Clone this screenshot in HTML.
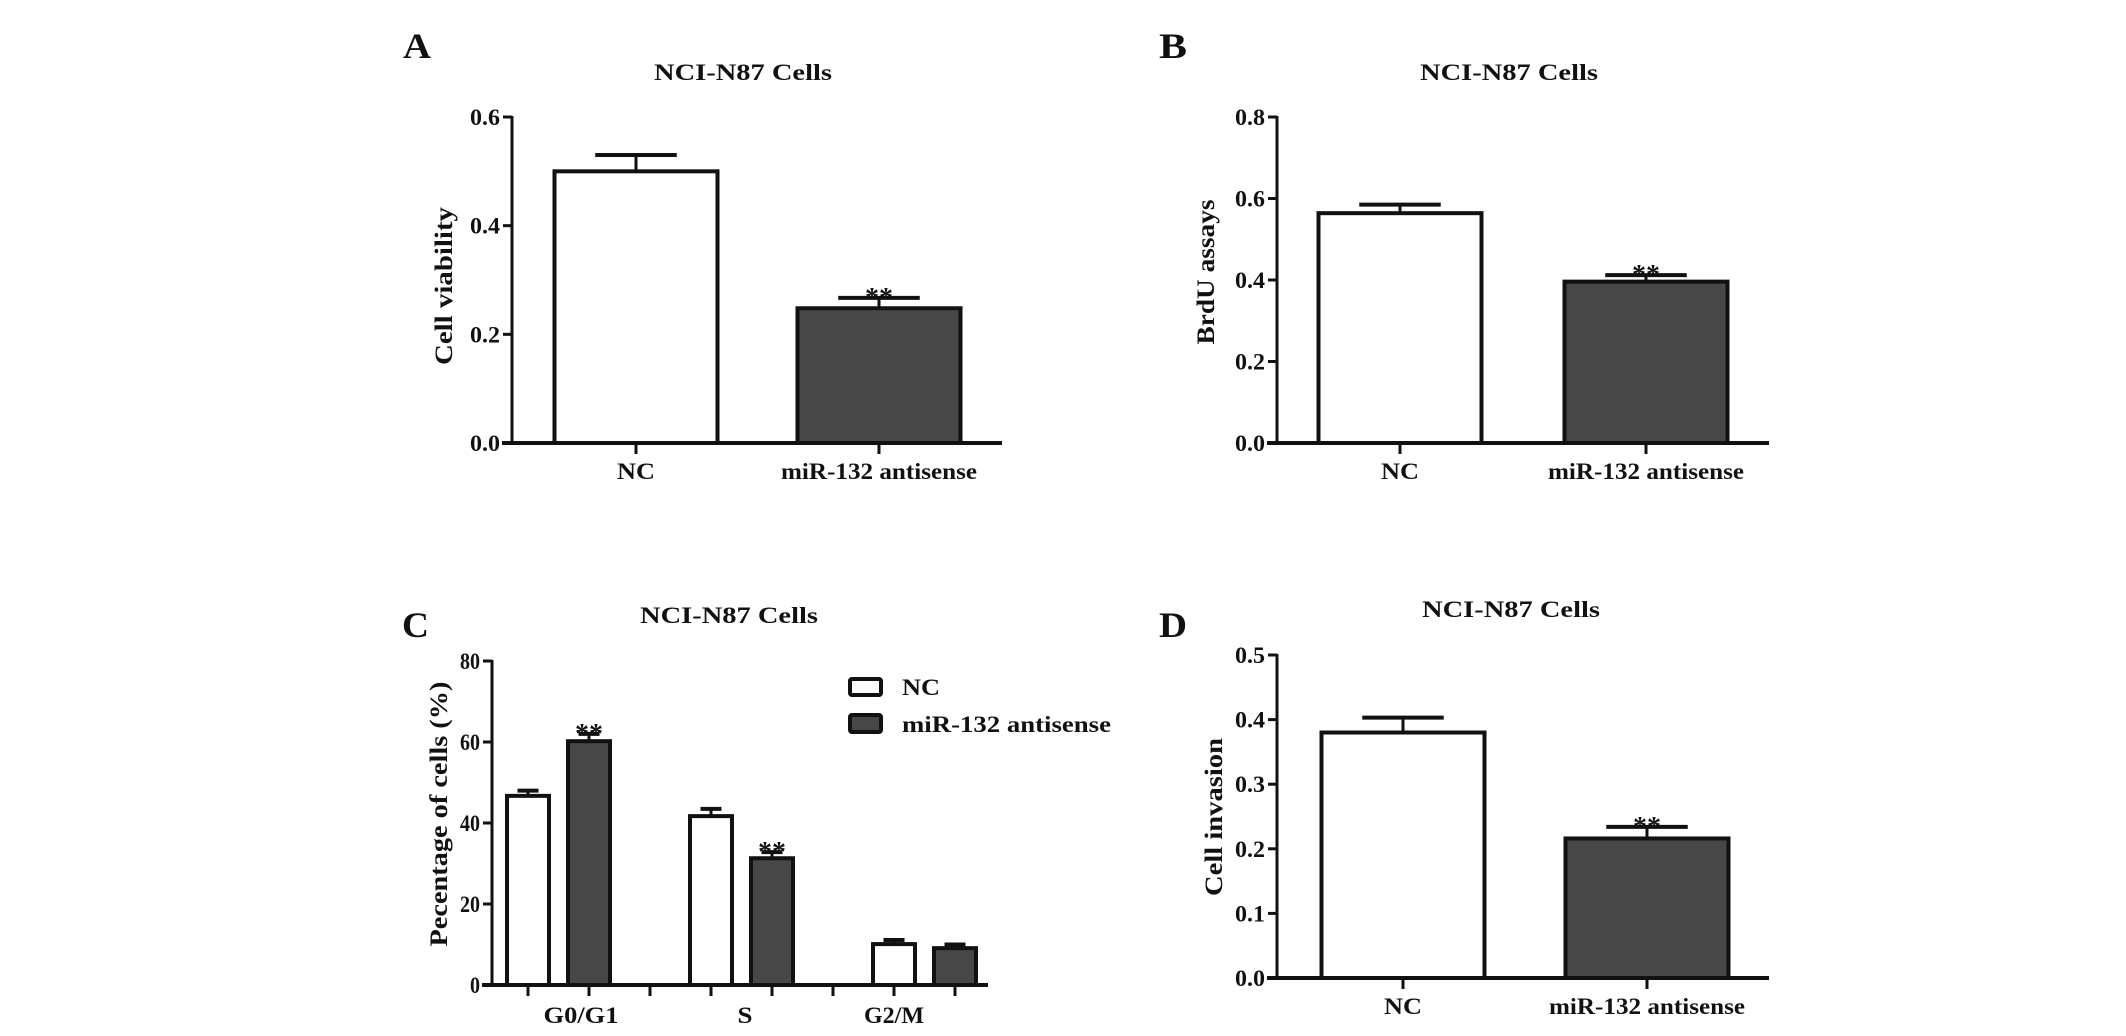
<!DOCTYPE html>
<html><head><meta charset="utf-8"><style>
html,body{margin:0;padding:0;background:#fff;}
svg{display:block;}
text{font-family:"Liberation Serif",serif;font-weight:bold;fill:#111;}
</style></head><body>
<svg id="fig" width="2126" height="1036" viewBox="0 0 2126 1036" xmlns="http://www.w3.org/2000/svg"></svg>
<script>
// Panel A data
const catsA = ["NC", "miR-132 antisense"];
const valsA = [0.50, 0.248];
const errA = [0.53, 0.267];
const ticksA = [0, 0.2, 0.4, 0.6];
const tickLabelsA = ["0.0", "0.2", "0.4", "0.6"];
// Panel B data
const catsB = ["NC", "miR-132 antisense"];
const valsB = [0.564, 0.396];
const errB = [0.585, 0.412];
const ticksB = [0, 0.2, 0.4, 0.6, 0.8];
const tickLabelsB = ["0.0", "0.2", "0.4", "0.6", "0.8"];
// Panel C data
const catsC = ["G0/G1", "S", "G2/M"];
const ncC = [46.7, 41.7, 10.1];
const ncErrC = [48, 43.5, 11.1];
const antiC = [60.2, 31.3, 9.1];
const antiErrC = [62, 32.8, 10];
const ticksC = [0, 20, 40, 60, 80];
const tickLabelsC = ["0", "20", "40", "60", "80"];
// Panel D data
const catsD = ["NC", "miR-132 antisense"];
const valsD = [0.38, 0.216];
const errD = [0.403, 0.234];
const ticksD = [0, 0.1, 0.2, 0.3, 0.4, 0.5];
const tickLabelsD = ["0.0", "0.1", "0.2", "0.3", "0.4", "0.5"];

const NS = "http://www.w3.org/2000/svg";
const svg = document.getElementById("fig");
const DARK = "#474747";

function mk(tag, attrs, parent) {
  const e = document.createElementNS(NS, tag);
  for (const k in attrs) e.setAttribute(k, attrs[k]);
  (parent || svg).appendChild(e);
  return e;
}
function txt(x, y, s, size, anchor, len, parent, rot) {
  const t = mk("text", {x: x, y: y, "font-size": size, "text-anchor": anchor || "middle"}, parent);
  if (len) { t.setAttribute("textLength", len); t.setAttribute("lengthAdjust", "spacingAndGlyphs"); }
  if (rot) t.setAttribute("transform", "rotate(-90 " + x + " " + y + ")");
  t.textContent = s;
  return t;
}

function axes(g, ax, y0, yTop, xEnd, vmax, ticks, labels, ylabel, ylx, ylc, yllen) {
  const sy = v => y0 - v / vmax * (y0 - yTop);
  const yaxis = mk("line", {x1: ax, y1: yTop - 1, x2: ax, y2: y0, stroke: "#111", "stroke-width": 3}, g);
  
  
  const xaxis = mk("line", {x1: ax - 10, y1: y0, x2: xEnd, y2: y0, stroke: "#111", "stroke-width": 4}, g);
  
  
  ticks.forEach((v, i) => {
    const y = sy(v);
    mk("line", {x1: ax - 9, y1: y, x2: ax, y2: y, stroke: "#111", "stroke-width": 3}, g);
    const lab = labels[i];
    const t = txt(ax - 12, y + 8, lab, 23, "end", lab.length * 10, g);
    
    
  });
  const yl = txt(ylx, ylc, ylabel, 25, "middle", yllen, g, true);
  
  
  return sy;
}

function bar(g, x1, x2, v, e, sy, y0, fill, star, name) {
  const r = mk("rect", {x: x1, y: sy(v), width: x2 - x1, height: y0 - sy(v), fill: fill, stroke: "#111", "stroke-width": 4}, g);
  
  
  const cx = (x1 + x2) / 2, w = (x2 - x1) / 2;
  const eg = mk("g", {}, g);
  
  
  mk("line", {x1: cx, y1: sy(v), x2: cx, y2: sy(e), stroke: "#111", "stroke-width": 3}, eg);
  mk("line", {x1: cx - w / 2, y1: sy(e), x2: cx + w / 2, y2: sy(e), stroke: "#111", "stroke-width": 4}, eg);
  if (star) {
    const s = txt(cx, sy(e) + 9, "**", 28, "middle", 0, g);
    
    
  }
}

function twoBarPanel(cfg) {
  const g = mk("g", {});
  
  
  const L = txt(cfg.letterX, cfg.letterY, cfg.letter, 36, "start", 28, g);
  
  
  const T = txt(cfg.titleX, cfg.titleY, "NCI-N87 Cells", 23, "middle", 178, g);
  
  
  const sy = axes(g, cfg.ax, cfg.y0, cfg.yTop, cfg.xEnd, cfg.vmax, cfg.ticks, cfg.labels, cfg.ylabel, cfg.ylx, cfg.ylc, cfg.yllen);
  const bw = cfg.bw;
  cfg.cats.forEach((c, i) => {
    const cx = cfg.centers[i];
    bar(g, cx - bw / 2, cx + bw / 2, cfg.vals[i], cfg.errs[i], sy, cfg.y0, i === 0 ? "#fff" : DARK, i === 1, i === 0 ? "bar-nc" : "bar-antisense");
    mk("line", {x1: cx, y1: cfg.y0, x2: cx, y2: cfg.y0 + 11, stroke: "#111", "stroke-width": 3}, g);
    const t = txt(cx, cfg.y0 + 36, c, 23, "middle", c.length > 3 ? 196 : 38, g);
    
    
  });
}

twoBarPanel({name: "panel-a-cell-viability", letter: "A", letterX: 403, letterY: 58, titleX: 743, titleY: 80,
  ax: 512, y0: 443, yTop: 117, xEnd: 1002, vmax: 0.6, ticks: ticksA, labels: tickLabelsA,
  ylabel: "Cell viability", ylx: 452, ylc: 286, yllen: 158, cats: catsA, vals: valsA, errs: errA, centers: [636, 879], bw: 163});
twoBarPanel({name: "panel-b-brdu", letter: "B", letterX: 1159, letterY: 58, titleX: 1509, titleY: 80,
  ax: 1277, y0: 443, yTop: 117, xEnd: 1769, vmax: 0.8, ticks: ticksB, labels: tickLabelsB,
  ylabel: "BrdU assays", ylx: 1214, ylc: 272, yllen: 145, cats: catsB, vals: valsB, errs: errB, centers: [1400, 1646], bw: 163});
twoBarPanel({name: "panel-d-cell-invasion", letter: "D", letterX: 1159, letterY: 637, titleX: 1511, titleY: 617,
  ax: 1277, y0: 978, yTop: 655, xEnd: 1769, vmax: 0.5, ticks: ticksD, labels: tickLabelsD,
  ylabel: "Cell invasion", ylx: 1222, ylc: 817, yllen: 158, cats: catsD, vals: valsD, errs: errD, centers: [1403, 1647], bw: 163});

// Panel C
(function () {
  const g = mk("g", {});
  
  
  const L = txt(402, 637, "C", 36, "start", 27, g);
  
  
  const T = txt(729, 623, "NCI-N87 Cells", 23, "middle", 178, g);
  
  
  const ax = 492, y0 = 985, yTop = 661;
  const sy = axes(g, ax, y0, yTop, 988, 80, ticksC, tickLabelsC, "Pecentage of cells (%)", 447, 814, 265);
  const step = 61, first = 528, bw = 42;
  for (let k = 0; k < catsC.length * 3 - 1; k++) {
    const x = first + k * step;
    mk("line", {x1: x, y1: y0, x2: x, y2: y0 + 11, stroke: "#111", "stroke-width": 3}, g);
  }
  const labelX = [581, 745, 894];
  catsC.forEach((c, i) => {
    const xn = first + i * 3 * step, xa = xn + step;
    bar(g, xn - bw / 2, xn + bw / 2, ncC[i], ncErrC[i], sy, y0, "#fff", false, "bar-nc-" + i);
    bar(g, xa - bw / 2, xa + bw / 2, antiC[i], antiErrC[i], sy, y0, DARK, i < 2, "bar-antisense-" + i);
    const t = txt(labelX[i], 1023, c, 23, "middle", c.length * 15, g);
    
    
  });
  const lg = mk("g", {}, g);
  
  
  mk("rect", {x: 850, y: 679, width: 31, height: 16, fill: "#fff", stroke: "#111", "stroke-width": 4, rx: 2}, lg);
  mk("rect", {x: 850, y: 715, width: 31, height: 17, fill: DARK, stroke: "#111", "stroke-width": 4, rx: 2}, lg);
  const l1 = txt(902, 695, "NC", 23, "start", 38, lg);
  
  
  l1.setAttribute('font-weight', 'normal');
  const l2 = txt(902, 732, "miR-132 antisense", 23, "start", 209, lg);
  
  
  l2.setAttribute('font-weight', 'normal');
})();
</script>
</body></html>
